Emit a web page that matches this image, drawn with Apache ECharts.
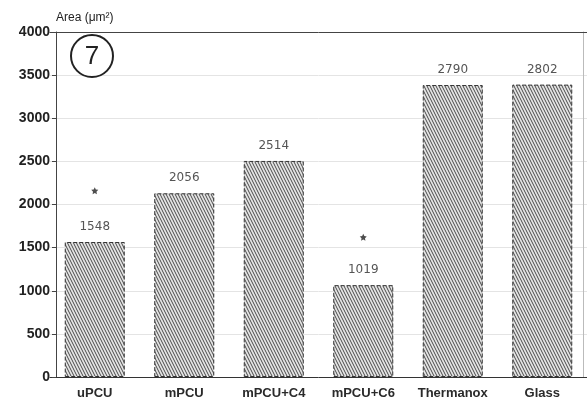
<!DOCTYPE html>
<html>
<head>
<meta charset="utf-8">
<script src="https://cdn.jsdelivr.net/npm/echarts@6/dist/echarts.min.js"></script>
<style>
  html, body { margin: 0; padding: 0; background: #fff; }
  #chart { width: 587px; height: 400px; }
</style>
</head>
<body>
<div id="chart"></div>
<script>
// values
var categories = ['uPCU', 'mPCU', 'mPCU+C4', 'mPCU+C6', 'Thermanox', 'Glass'];
var barHeights = [1565, 2130, 2505, 1065, 3385, 3390];
var barLabels = ['1548', '2056', '2514', '1019', '2790', '2802'];
var starLevels = [2160, null, null, 1620, null, null];
var yTicks = [0, 500, 1000, 1500, 2000, 2500, 3000, 3500, 4000];

// steep diagonal hatch for the bars
function hatch() {
  var c = document.createElement('canvas');
  c.width = 3; c.height = 6;
  var g = c.getContext('2d');
  g.fillStyle = '#e4e4e4';
  g.fillRect(0, 0, 3, 6);
  g.strokeStyle = '#4a4a4a';
  g.lineWidth = 1;
  g.beginPath();
  g.moveTo(-1, -2); g.lineTo(4, 8);
  g.moveTo(-4, -2); g.lineTo(1, 8);
  g.moveTo(2, -2); g.lineTo(7, 8);
  g.stroke();
  return c;
}

var star = 'path://M0,-10 L2.9,-4 9.5,-3.1 4.7,1.5 5.9,8.1 0,5 -5.9,8.1 -4.7,1.5 -9.5,-3.1 -2.9,-4 Z';

var chart = echarts.init(document.getElementById('chart'));
chart.setOption({
  animation: false,
  grid: { left: 50, right: 0, top: 32, bottom: 23 },
  xAxis: [{
    type: 'category',
    data: categories,
    axisLine: { lineStyle: { color: '#333', width: 1 } },
    axisTick: { show: false },
    axisLabel: {
      interval: 0, color: '#2a2a2a', fontSize: 13, fontWeight: 'bold',
      fontFamily: 'Liberation Sans', margin: 10
    }
  }, {
    type: 'category',
    data: categories,
    position: 'top',
    axisLine: { onZero: false, lineStyle: { color: '#444', width: 1 } },
    axisTick: { show: false },
    axisLabel: { show: false }
  }],
  yAxis: [{
    type: 'value',
    min: yTicks[0],
    max: yTicks[yTicks.length - 1],
    interval: 500,
    offset: -6,
    name: 'Area (μm²)',
    nameLocation: 'end',
    nameGap: 8,
    nameTextStyle: { align: 'left', color: '#222', fontSize: 12, fontFamily: 'Liberation Sans' },
    axisLine: { show: true, lineStyle: { color: '#444' } },
    axisTick: { show: true, length: 4, lineStyle: { color: '#444' } },
    axisLabel: {
      color: '#222', fontSize: 14, fontWeight: 'bold', fontFamily: 'Liberation Sans', margin: 6,
      formatter: function (v) { return String(v); }
    },
    splitLine: { show: true, lineStyle: { color: '#e4e4e4' } }
  }, {
    type: 'value',
    min: yTicks[0],
    max: yTicks[yTicks.length - 1],
    interval: 500,
    position: 'right',
    offset: -4,
    axisLine: { show: true, lineStyle: { color: '#bbb' } },
    axisTick: { show: false },
    axisLabel: { show: false },
    splitLine: { show: false }
  }],
  series: [{
    type: 'bar',
    data: barHeights,
    barWidth: 60,
    itemStyle: {
      color: { image: hatch(), repeat: 'repeat' },
      borderColor: '#333',
      borderWidth: 1,
      borderType: 'dashed'
    },
    label: {
      show: true,
      position: 'top',
      distance: 9,
      color: '#555',
      fontSize: 12,
      fontFamily: 'DejaVu Sans',
      formatter: function (p) { return barLabels[p.dataIndex]; }
    }
  }, {
    type: 'scatter',
    data: starLevels,
    symbol: star,
    symbolSize: 7,
    itemStyle: { color: '#222' }
  }],
  graphic: [{
    type: 'circle',
    z: 100,
    shape: { cx: 92, cy: 56, r: 21 },
    style: { fill: '#fff', stroke: '#222', lineWidth: 2 }
  }, {
    type: 'text',
    z: 101,
    x: 92, y: 57,
    style: { text: '7', fill: '#222', font: '26px "Liberation Sans Narrow", "Liberation Sans"', align: 'center', verticalAlign: 'middle' }
  }]
});
</script>
</body>
</html>
